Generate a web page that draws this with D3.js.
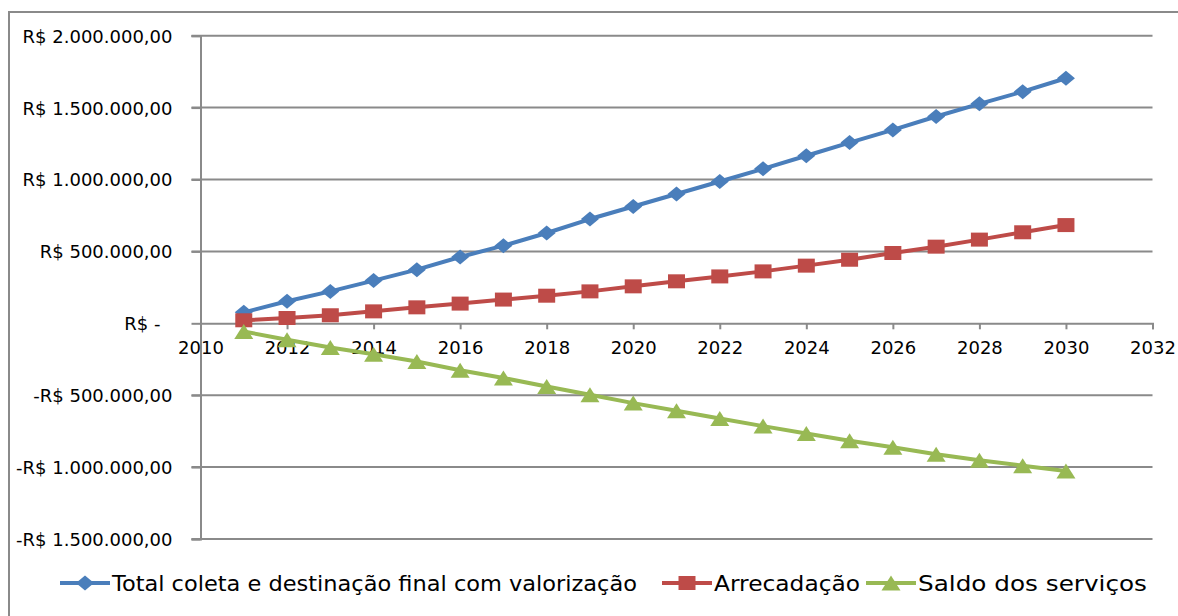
<html>
<head>
<meta charset="utf-8">
<script src="https://d3js.org/d3.v7.min.js"></script>
<style>
  body { margin: 0; background: white; }
  svg { display: block; }
  .lbl { font: 18px "DejaVu Sans", sans-serif; fill: #000; }
  .leg { font: 22px "DejaVu Sans", sans-serif; fill: #000; }
</style>
</head>
<body>
<svg width="1178" height="616"></svg>
<script>
// values (R$)
var years = [2011, 2012, 2013, 2014, 2015, 2016, 2017, 2018, 2019, 2020,
             2021, 2022, 2023, 2024, 2025, 2026, 2027, 2028, 2029, 2030];
var totalColeta = [76000, 153000, 222000, 297000, 373000, 461000, 540000, 628000, 725000, 812000,
                   899000, 986000, 1074000, 1165000, 1257000, 1345000, 1438000, 1526000, 1611000, 1704000];
var arrecadacao = [21000, 37000, 56000, 83000, 111000, 137000, 165000, 192000, 222000, 257000,
                   292000, 326000, 361000, 401000, 442000, 489000, 533000, 582000, 633000, 683000];
var saldo = [-57000, -114000, -168000, -215000, -266000, -326000, -380000, -440000, -497000, -555000,
             -608000, -662000, -715000, -766000, -817000, -862000, -910000, -952000, -990000, -1027000];
var seriesNames = ["Total coleta e destinação final com valorização", "Arrecadação", "Saldo dos serviços"];
var xTicks = [2010, 2012, 2014, 2016, 2018, 2020, 2022, 2024, 2026, 2028, 2030, 2032];
var yTicks = [-1500000, -1000000, -500000, 0, 500000, 1000000, 1500000, 2000000];

var svg = d3.select("svg");
var plotL = 200.5, plotR = 1152.5, plotT = 35.7, plotB = 539;
var grid = "#8a8a8a";

var x = d3.scaleLinear().domain([2010, 2032]).range([plotL, plotR]);
var y = d3.scaleLinear().domain([-1500000, 2000000]).range([plotB, plotT]);

// outer chart border (left + top visible)
svg.append("path").attr("d", "M9,616 L9,12 L1178,12")
  .attr("fill", "none").attr("stroke", grid).attr("stroke-width", 2);

// horizontal gridlines
svg.append("g").selectAll("line").data(yTicks.filter(d => d != 0)).enter()
  .append("line")
  .attr("x1", plotL - 9).attr("x2", plotR)
  .attr("y1", d => y(d)).attr("y2", d => y(d))
  .attr("stroke", grid).attr("stroke-width", 2);

// y axis
var yAxis = svg.append("g").attr("transform", "translate(" + plotL + ",0)")
  .call(d3.axisLeft(y).tickValues(yTicks).tickSize(9).tickPadding(19)
    .tickFormat(function(d) {
      if (d == 0) return "R$ -";
      var s = d3.format(",.2f")(Math.abs(d)).replace(/,/g, "#").replace(".", ",").replace(/#/g, ".");
      return (d < 0 ? "-" : "") + "R$ " + s;
    }));
yAxis.attr("font-size", null).attr("font-family", null);
yAxis.select(".domain").attr("stroke", grid).attr("stroke-width", 2);
yAxis.selectAll(".tick line").attr("stroke", grid).attr("stroke-width", 2);
yAxis.selectAll(".tick text").attr("class", "lbl")
  .attr("dy", "0.36em")
  .attr("dx", d => d == 0 ? -12 : 0);

// x axis at zero
var xAxis = svg.append("g").attr("transform", "translate(0," + y(0) + ")")
  .call(d3.axisBottom(x).tickValues(xTicks).tickSize(6).tickPadding(12).tickFormat(d3.format("d")));
xAxis.attr("font-size", null).attr("font-family", null);
xAxis.select(".domain").attr("stroke", grid).attr("stroke-width", 2);
xAxis.selectAll(".tick line").attr("stroke", grid).attr("stroke-width", 2);
xAxis.selectAll(".tick text").attr("class", "lbl").attr("dy", "0.71em");

// marker shapes (slightly wider than tall, as in the reference)
function diamond(w, h) { return "M0," + (-h/2) + "L" + (w/2) + ",0L0," + (h/2) + "L" + (-w/2) + ",0Z"; }
function square(w, h) { return "M" + (-w/2) + "," + (-h/2) + "h" + w + "v" + h + "h" + (-w) + "Z"; }
function triangle(w, h) { return "M0," + (-h/2) + "L" + (w/2) + "," + (h/2) + "L" + (-w/2) + "," + (h/2) + "Z"; }

var series = [
  { name: seriesNames[0], values: totalColeta, color: "#4A7EBB", marker: diamond(18, 15) },
  { name: seriesNames[1], values: arrecadacao, color: "#BE4B48", marker: square(17, 14) },
  { name: seriesNames[2], values: saldo, color: "#98B954", marker: triangle(19, 15) }
];

var line = d3.line().x(d => x(d[0])).y(d => y(d[1]));

series.forEach(function(s) {
  var pts = years.map((yr, i) => [yr, s.values[i]]);
  var g = svg.append("g");
  g.append("path").attr("d", line(pts))
    .attr("fill", "none").attr("stroke", s.color).attr("stroke-width", 4)
    .attr("stroke-linejoin", "round");
  g.selectAll("path.m").data(pts).enter()
    .append("path").attr("class", "m")
    .attr("d", s.marker)
    .attr("transform", d => "translate(" + x(d[0]) + "," + y(d[1]) + ")")
    .attr("fill", s.color);
});

// legend
var legX = [60, 662, 866];
var legW = [525, 146, 229];
var leg = svg.append("g").attr("transform", "translate(0,583)");
series.forEach(function(s, i) {
  var g = leg.append("g").attr("transform", "translate(" + legX[i] + ",0)");
  g.append("line").attr("x1", 0).attr("x2", 50).attr("y1", 0).attr("y2", 0)
    .attr("stroke", s.color).attr("stroke-width", 4);
  g.append("path").attr("d", s.marker).attr("transform", "translate(25,0)").attr("fill", s.color);
  g.append("text").attr("class", "leg").attr("x", 52).attr("y", 0).attr("dy", "0.35em")
    .attr("textLength", legW[i]).attr("lengthAdjust", "spacingAndGlyphs").text(s.name);
});
</script>
</body>
</html>
